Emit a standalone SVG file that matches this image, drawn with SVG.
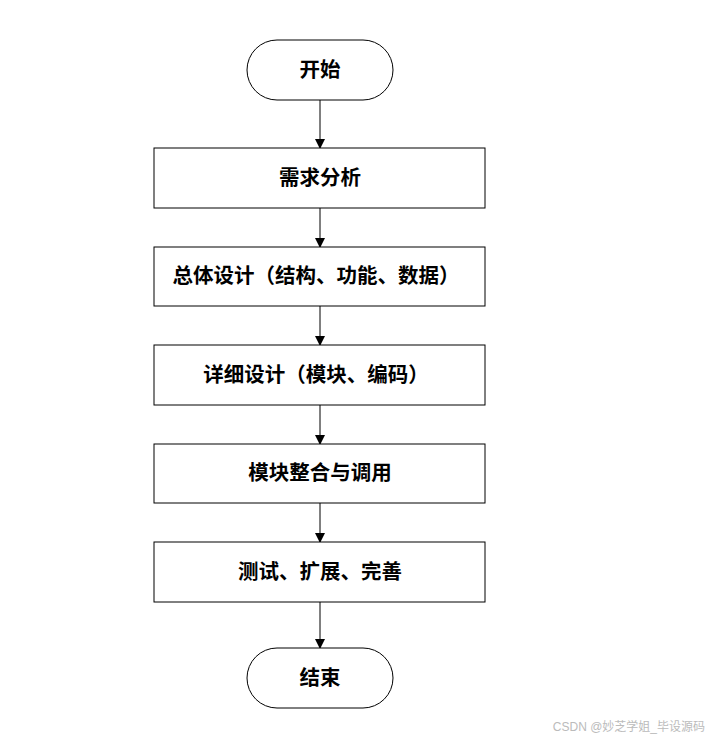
<svg xmlns="http://www.w3.org/2000/svg" width="717" height="741" viewBox="0 0 717 741">
<style>
.n{fill:#fff;stroke:#000;stroke-width:1}
.t{font-family:"Liberation Serif","Noto Sans CJK SC",serif;font-size:20.5px;font-weight:bold;text-anchor:middle;dominant-baseline:central;fill:#000}
.c{stroke:#000;stroke-width:1;fill:none;marker-end:url(#a)}
</style>
<defs>
<marker id="a" markerWidth="10" markerHeight="10" refX="9" refY="5" orient="auto" markerUnits="userSpaceOnUse">
<path d="M0,0 L10,5 L0,10 Z" fill="#000"/>
</marker>
</defs>
<rect width="717" height="741" fill="#fff"/>
<g id="connectors">
<line class="c" x1="320" y1="100" x2="320" y2="148"/>
<line class="c" x1="320" y1="208" x2="320" y2="247"/>
<line class="c" x1="320" y1="306" x2="320" y2="345"/>
<line class="c" x1="320" y1="405" x2="320" y2="444"/>
<line class="c" x1="320" y1="503" x2="320" y2="542"/>
<line class="c" x1="320" y1="602" x2="320" y2="648"/>
</g>
<g id="start"><rect class="n" x="247" y="40" width="146" height="60" rx="30" ry="30"/><text class="t" x="320" y="70">开始</text></g>
<g id="n1"><rect class="n" x="154" y="148" width="331" height="60"/><text class="t" x="320" y="178">需求分析</text></g>
<g id="n2"><rect class="n" x="154" y="247" width="331" height="59"/><text class="t" x="316" y="276">总体设计（结构、功能、数据）</text></g>
<g id="n3"><rect class="n" x="154" y="345" width="331" height="60"/><text class="t" x="316" y="375">详细设计（模块、编码）</text></g>
<g id="n4"><rect class="n" x="154" y="444" width="331" height="59"/><text class="t" x="320" y="473">模块整合与调用</text></g>
<g id="n5"><rect class="n" x="154" y="542" width="331" height="60"/><text class="t" x="320" y="572">测试、扩展、完善</text></g>
<g id="end"><rect class="n" x="247" y="648" width="146" height="60" rx="30" ry="30"/><text class="t" x="320" y="678">结束</text></g>
<text x="705" y="727" font-family="'Liberation Sans','Noto Sans CJK SC',sans-serif" font-size="12" fill="#bbb" text-anchor="end" dominant-baseline="central">CSDN @妙芝学姐_毕设源码</text>
</svg>
